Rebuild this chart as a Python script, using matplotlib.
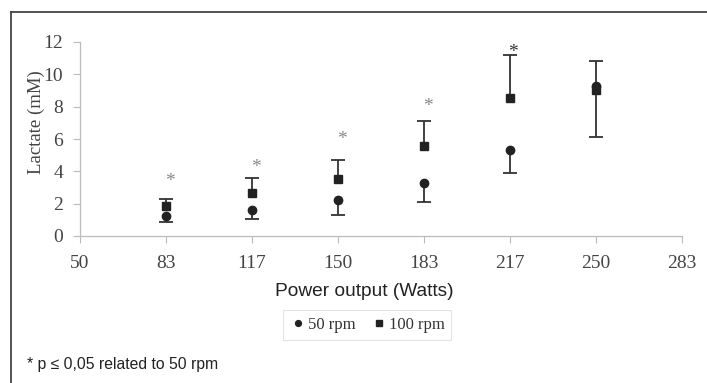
import matplotlib
matplotlib.use("Agg")
import matplotlib.pyplot as plt
from matplotlib.lines import Line2D

# Data
tick_labels = ["50", "83", "117", "150", "183", "217", "250", "283"]
tick_pos = [50, 83.33, 116.67, 150, 183.33, 216.67, 250, 283.33]
power = [83.33, 116.67, 150, 183.33, 216.67, 250]
rpm50_mean = [1.23, 1.6, 2.2, 3.3, 5.35, 9.3]
rpm50_low = [0.84, 1.05, 1.3, 2.1, 3.9, 6.1]
rpm100_mean = [1.87, 2.67, 3.55, 5.56, 8.55, 9.05]
rpm100_high = [2.28, 3.6, 4.72, 7.12, 11.2, 10.83]
star_x = [83.33, 116.67, 150, 183.33, 216.67]
star_y = [3.7, 4.57, 6.3, 8.35, 11.7]

fig = plt.figure(figsize=(7.07, 3.83), dpi=100)
W, H = 707, 383
ax = fig.add_axes([80 / W, 1 - 236 / H, (682 - 80) / W, (236 - 42) / H])

serif = "Liberation Serif"
sans = "Liberation Sans"
dark = "#222222"
ecol = "#333333"

# one-sided error bars
ax.vlines(power, rpm50_low, rpm50_mean, color=ecol, lw=1.3, zorder=2)
ax.plot(power, rpm50_low, linestyle="none", marker="_", markersize=9.5,
        mew=1.3, color=ecol, zorder=2)
ax.vlines(power, rpm100_mean, rpm100_high, color=ecol, lw=1.3, zorder=2)
ax.plot(power, rpm100_high, linestyle="none", marker="_", markersize=9.5,
        mew=1.3, color=ecol, zorder=2)

ax.plot(power, rpm50_mean, "o", color=dark, markersize=6, linestyle="none",
        label="50 rpm", zorder=3)
ax.plot(power, rpm100_mean, "s", color=dark, markersize=6, linestyle="none",
        label="100 rpm", zorder=3)

for i, (sx, sy) in enumerate(zip(star_x, star_y)):
    col = "#333333" if i == len(star_x) - 1 else "#888888"
    ax.annotate("*", (sx, sy), xytext=(3 if i < 4 else 2, -4), textcoords="offset points",
                ha="center", va="center", fontsize=14, family=serif, color=col)

ax.set_xlim(50, 283.33)
ax.set_ylim(0, 12)
ax.set_xticks(tick_pos)
ax.set_xticklabels(tick_labels)
ax.set_yticks(range(0, 13, 2))
for lab in ax.get_xticklabels() + ax.get_yticklabels():
    lab.set_family(serif)
    lab.set_fontsize(14)
    lab.set_color("#444444")
ax.tick_params(axis="x", length=5, width=0.8, color="#bbbbbb", pad=9)
ax.tick_params(axis="y", length=5, width=0.8, color="#bbbbbb", pad=7)
for s in ["top", "right"]:
    ax.spines[s].set_visible(False)
for s in ["left", "bottom"]:
    ax.spines[s].set_color("#bbbbbb")
    ax.spines[s].set_linewidth(0.9)

ax.set_ylabel("Lactate (mM)", family=serif, fontsize=13.5, color="#444444")
ax.yaxis.set_label_coords((45 - 80) / 602, (236 - 122.5) / 194)
fig.text(364 / W, 1 - 291 / H, "Power output (Watts)", family=sans, fontsize=13.8,
         color="#222222", ha="center", va="center")

leg = fig.legend(loc="center", bbox_to_anchor=(367 / W, 1 - 325 / H), ncol=2,
                 frameon=True, fancybox=False, edgecolor="#dddddd",
                 prop={"family": serif, "size": 12}, handletextpad=0.1,
                 columnspacing=0.9, markerscale=0.7, handlelength=1.0,
                 borderpad=0.4)
leg.get_frame().set_linewidth(0.8)
for t in leg.get_texts():
    t.set_color("#333333")

fig.text(27 / W, 1 - 365 / H, "* p \u2264 0,05 related to 50 rpm", family=sans,
         fontsize=11.3, color="#222222", ha="left", va="center")

fig.add_artist(Line2D([10.5 / W, 10.5 / W], [0, 1 - 11.5 / H], color="#444444", lw=1.3))
fig.add_artist(Line2D([10.5 / W, 1], [1 - 11.5 / H, 1 - 11.5 / H], color="#444444", lw=1.3))

fig.savefig("out.png", dpi=100)
